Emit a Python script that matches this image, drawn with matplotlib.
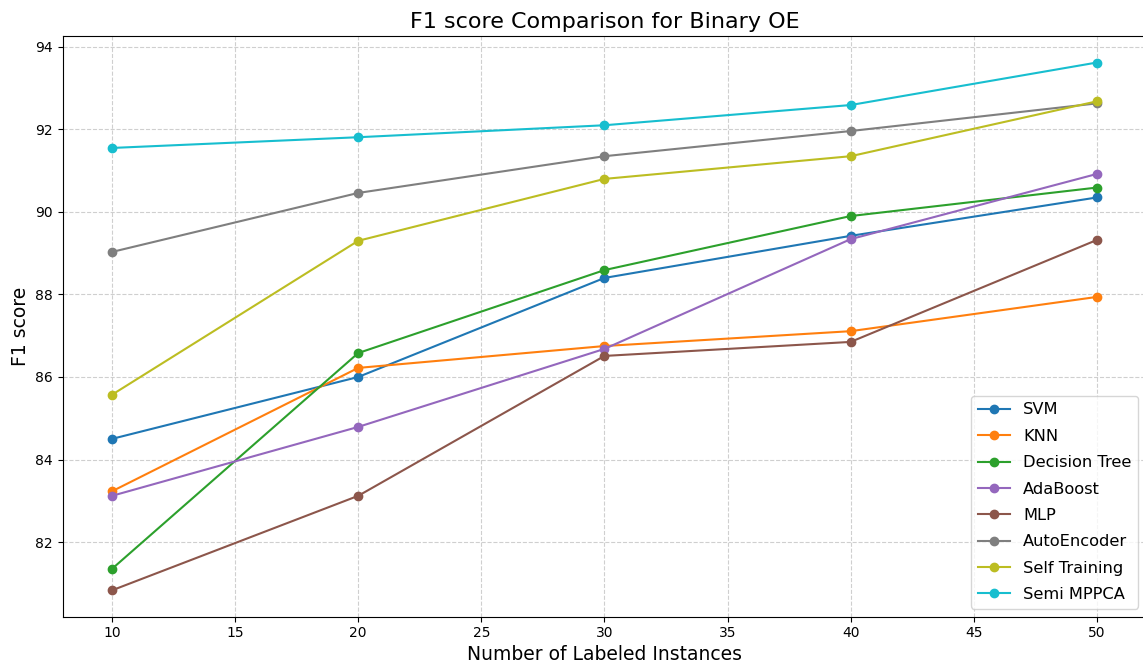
import matplotlib
matplotlib.use("Agg")
import matplotlib.pyplot as plt

# labeled instances
n_labeled = [10, 20, 30, 40, 50]

# F1 scores
svm = [84.50, 86.00, 88.40, 89.42, 90.35]
knn = [83.23, 86.22, 86.75, 87.11, 87.94]
decision_tree = [81.35, 86.58, 88.59, 89.90, 90.59]
adaboost = [83.12, 84.79, 86.68, 89.34, 90.92]
mlp = [80.83, 83.12, 86.51, 86.85, 89.32]
autoencoder = [89.03, 90.46, 91.35, 91.96, 92.63]
self_training = [85.57, 89.30, 90.80, 91.35, 92.68]
semi_mppca = [91.55, 91.81, 92.10, 92.59, 93.62]

series = [
    ("SVM", svm, "tab:blue"),
    ("KNN", knn, "tab:orange"),
    ("Decision Tree", decision_tree, "tab:green"),
    ("AdaBoost", adaboost, "tab:purple"),
    ("MLP", mlp, "tab:brown"),
    ("AutoEncoder", autoencoder, "tab:gray"),
    ("Self Training", self_training, "tab:olive"),
    ("Semi MPPCA", semi_mppca, "tab:cyan"),
]

fig = plt.figure(figsize=(11.43, 6.62), dpi=100)
ax = fig.add_axes([0.0549, 0.0684, 0.9478, 0.877])

for name, vals, col in series:
    ax.plot(n_labeled, vals, marker='o', color=col, label=name)

ax.set_title("F1 score Comparison for Binary OE", fontsize=16)
ax.set_xlabel("Number of Labeled Instances", fontsize=13.5, labelpad=3)
ax.set_ylabel("F1 score", fontsize=13.5)
ax.grid(True, linestyle='--', alpha=0.6)
ax.legend(loc="lower right", fontsize=11.7, labelspacing=0.7)

fig.savefig("out.png", dpi=100)
